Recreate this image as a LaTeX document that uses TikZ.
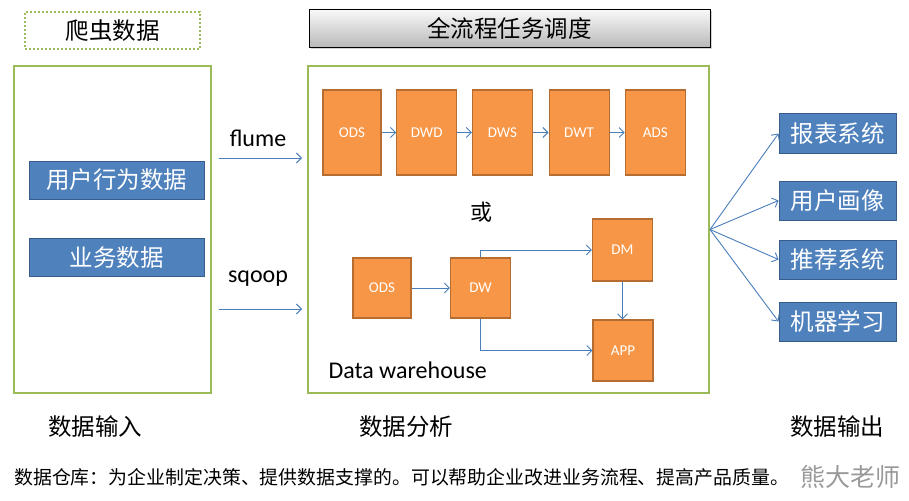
\documentclass[tikz,border=0pt]{standalone}
\usepackage{fontspec}
\setmainfont{Carlito}
\newfontfamily\cjk{Noto Sans CJK SC}
\usetikzlibrary{positioning,shadows,arrows.meta}

\definecolor{frameGreen}{RGB}{155,187,89}
\definecolor{boxBlue}{RGB}{79,129,189}
\definecolor{edgeBlue}{RGB}{56,93,138}
\definecolor{boxOrange}{RGB}{247,150,70}
\definecolor{edgeOrange}{RGB}{182,109,49}
\definecolor{flowBlue}{RGB}{74,126,187}

\tikzset{
	frame/.style={draw=frameGreen,line width=2pt,inner sep=0pt},
	srcbox/.style={draw=edgeBlue,line width=1pt,fill=boxBlue,text=white,minimum width=175,minimum height=38,inner sep=0pt,font=\cjk\fontsize{23.5}{23.5}\selectfont},
	outbox/.style={srcbox,minimum width=117,minimum height=39},
	layer/.style={draw=edgeOrange,line width=1.2pt,fill=boxOrange,text=white,minimum width=60,inner sep=0pt,font=\fontsize{15}{15}\selectfont},
	flow/.style={draw=flowBlue,line width=0.9pt,-{Straight Barb[length=5pt,width=10pt]}},
	stagetext/.style={font=\cjk\fontsize{23.5}{23.5}\selectfont}
}

\begin{document}
\begin{tikzpicture}[x=1pt,y=1pt,yscale=-1,xscale=1]
	\useasboundingbox (0,0) rectangle (909,500);

	% Header Node
	\node [draw=frameGreen,dotted,line width=2pt,minimum width=175,minimum height=37,font=\cjk\fontsize{23.5}{23.5}\selectfont] (crawl) at (112.5,30.5) {爬虫数据};
	\node [draw=black,line width=0.8pt,top color=gray!4,bottom color=gray!55,drop shadow={opacity=0.35},minimum width=401,minimum height=38,font=\cjk\fontsize{23.5}{23.5}\selectfont] (sched) at (509.5,28) {全流程任务调度};

	% Frame Node
	\node [frame,minimum width=197,minimum height=327] (inframe) at (112.5,229.5) {};
	\node [frame,minimum width=401,minimum height=327] (whframe) at (508.5,229.5) {};

	% Text Node
	\node [srcbox] (behave) at (116.5,180) {用户行为数据};
	\node [srcbox] (biz) at (116.5,257.5) {业务数据};

	% Text Node
	\node [font=\fontsize{24}{24}\selectfont] (flume) at (258,138) {flume};
	\node [font=\fontsize{24}{24}\selectfont] (sqoop) at (258,279) {sqoop};
	\coordinate (flumeS) at (219,158);
	\coordinate (flumeE) at (302,158);
	\coordinate (sqoopS) at (219,309);
	\coordinate (sqoopE) at (302,309);

	% Layer Node
	\node [layer,minimum height=85,minimum width=58] (ods) at (352,132.5) {ODS};
	\node [layer,minimum height=85,right=14.5 of ods] (dwd) {DWD};
	\node [layer,minimum height=85,right=14.5 of dwd] (dws) {DWS};
	\node [layer,minimum height=85,right=15.5 of dws] (dwt) {DWT};
	\node [layer,minimum height=85,right=15 of dwt] (ads) {ADS};

	\node [font=\cjk\fontsize{22}{22}\selectfont] (or) at (481,212) {或};

	% Layer Node
	\node [layer,minimum height=60,minimum width=58] (ods2) at (382,288) {ODS};
	\node [layer,minimum height=60] (dw) at (480.5,288) {DW};
	\node [layer,minimum height=62] (dm) at (622.5,250) {DM};
	\node [layer,minimum height=61] (app) at (623,350.5) {APP};

	\node [font=\fontsize{24}{24}\selectfont,anchor=west] (dwlabel) at (325,370) {Data warehouse};

	% Output Node
	\node [outbox] (report) at (837.5,133.5) {报表系统};
	\node [outbox] (portrait) at (837.5,200.5) {用户画像};
	\node [outbox] (recommend) at (837.5,259.5) {推荐系统};
	\node [outbox] (learn) at (837.5,321.5) {机器学习};

	% Caption Node
	\node [stagetext] (input) at (95,427) {数据输入};
	\node [stagetext] (analysis) at (406,427) {数据分析};
	\node [stagetext] (output) at (837,427) {数据输出};
	\node [font=\cjk\fontsize{18.9}{18.9}\selectfont,anchor=west,inner sep=0pt] (note) at (14,477) {数据仓库：为企业制定决策、提供数据支撑的。可以帮助企业改进业务流程、提高产品质量。};
	\node [font=\cjk\fontsize{25}{25}\selectfont,text=gray!80,anchor=east,inner sep=0pt] (sign) at (901,477) {熊大老师};

	% Connection
	\draw [flow] (flumeS) -- (flumeE);
	\draw [flow] (sqoopS) -- (sqoopE);
	\draw [flow] (ods) -- (dwd);
	\draw [flow] (dwd) -- (dws);
	\draw [flow] (dws) -- (dwt);
	\draw [flow] (dwt) -- (ads);
	\draw [flow] (ods2) -- (dw);
	\draw [flow] (dw.north) |- (dm.west);
	\draw [flow] (dw.south) |- (app.west);
	\draw [flow] (dm.south) -- (dm.south |- app.north);
	\foreach \t in {report,portrait,recommend,learn}
		\draw [flow] (whframe.east) -- (\t.west);

\end{tikzpicture}
\end{document}
